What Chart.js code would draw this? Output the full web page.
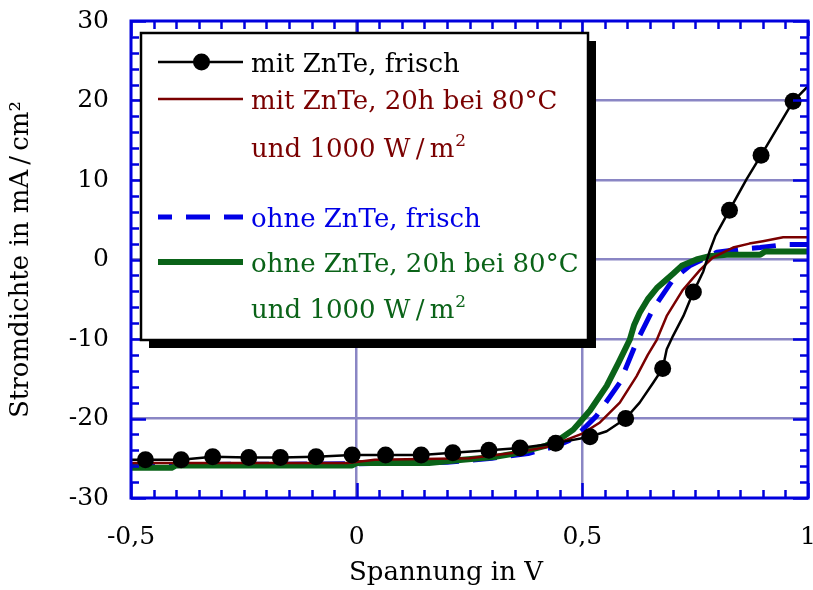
<!DOCTYPE html>
<html><head><meta charset="utf-8">
<script src="https://cdn.jsdelivr.net/npm/chart.js@4.4.0/dist/chart.umd.min.js"></script>
<style>html,body{margin:0;padding:0;background:#fff;}canvas{display:block;}</style>
</head><body>
<canvas id="c" width="813" height="590"></canvas>
<script>
// ---- axis ticks ----
const xTickValues = [-0.5, 0, 0.5, 1];
const xTickLabels = ['-0,5', '0', '0,5', '1'];
const yTickValues = [-30, -20, -10, 0, 10, 20, 30];
const xTitle = 'Spannung in V';
const yTitle = 'Stromdichte in mA\u2009/\u2009cm\u00B2';

// ---- series: mit ZnTe, frisch (measured points with markers) ----
const mitFrischV = [-0.468,-0.389,-0.319,-0.239,-0.169,-0.090,-0.010,0.064,0.143,0.213,0.293,0.362,0.441,0.517,0.596,0.678,0.746,0.826,0.896,0.967];
const mitFrischJ = [-25.2,-25.2,-24.8,-24.9,-24.9,-24.8,-24.6,-24.6,-24.6,-24.3,-24.0,-23.7,-23.1,-22.3,-20.0,-13.7,-4.1,6.2,13.1,19.9];
// additional points of the connecting line (no markers)
const mitFrischLineV = [-0.5,0.554,0.627,0.657,0.687,0.701,0.724,0.768,0.783,0.795,0.864,1.0];
const mitFrischLineJ = [-25.2,-21.6,-18.0,-15.5,-11.3,-9.6,-7.1,-1.5,1.2,3.0,10.1,21.8];

// ---- series: mit ZnTe, 20h bei 80°C und 1000 W/m² ----
const mitAltV = [-0.5,-0.02,0.04,0.25,0.35,0.42,0.45,0.50,0.539,0.583,0.620,0.645,0.665,0.687,0.723,0.761,0.789,0.834,0.870,0.900,0.945,1.0];
const mitAltJ = [-25.6,-25.6,-25.2,-25.0,-24.3,-23.6,-23.0,-21.9,-20.5,-18.0,-14.7,-12.0,-10.1,-7.1,-3.8,-1.3,0.25,1.5,2.0,2.3,2.8,2.8];

// ---- series: ohne ZnTe, frisch ----
const ohneFrischV = [-0.5,-0.41,0.0,0.2,0.3,0.38,0.44,0.47,0.494,0.531,0.583,0.620,0.656,0.701,0.738,0.798,0.85,0.894,0.95,1.0];
const ohneFrischJ = [-26.0,-25.8,-25.7,-25.5,-25.0,-24.4,-23.5,-22.8,-21.8,-19.7,-15.5,-10.4,-6.3,-2.5,-0.8,0.9,1.3,1.5,1.9,1.9];

// ---- series: ohne ZnTe, 20h bei 80°C und 1000 W/m² ----
const ohneAltV = [-0.5,-0.41,-0.40,-0.01,0.0,0.16,0.235,0.31,0.36,0.42,0.45,0.48,0.494,0.517,0.554,0.58,0.605,0.615,0.627,0.645,0.665,0.687,0.701,0.72,0.753,0.78,0.82,0.894,0.905,1.0];
const ohneAltJ = [-26.2,-26.2,-25.9,-25.9,-25.6,-25.6,-25.2,-24.8,-24.3,-23.4,-22.6,-21.4,-20.5,-19.0,-15.9,-13.0,-10.1,-8.2,-6.7,-5.0,-3.6,-2.5,-1.8,-0.8,0.0,0.4,0.6,0.6,1.0,1.0];

// ---- legend text ----
const legendLines = [
  {text: 'mit ZnTe, frisch', series: 0},
  {text: 'mit ZnTe, 20h bei 80°C', series: 1},
  {text: 'und 1000 W\u2009/\u2009m', sup: '2', series: 1, noSample: true},
  {text: 'ohne ZnTe, frisch', series: 2},
  {text: 'ohne ZnTe, 20h bei 80°C', series: 3},
  {text: 'und 1000 W\u2009/\u2009m', sup: '2', series: 3, noSample: true}
];

// ---- styles ----
const FONT = '"DejaVu Serif", "Liberation Serif", serif';
const colBlack = '#000000', colRed = '#7a0000', colBlue = '#0000e6', colGreen = '#0a6318';
const axisBlue = '#0000dd', gridCol = '#8a86c4';

function toPts(V, J) { return V.map((v, i) => ({x: v, y: J[i]})); }
const blackData = toPts(mitFrischV, mitFrischJ).map(p => ({...p, m: true}))
  .concat(toPts(mitFrischLineV, mitFrischLineJ).map(p => ({...p, m: false})))
  .sort((a, b) => a.x - b.x);

const seriesStyles = [
  {color: colBlack, width: 2.5, dash: [], marker: true},
  {color: colRed, width: 2.5, dash: []},
  {color: colBlue, width: 5, dash: [24, 14]},
  {color: colGreen, width: 6, dash: []}
];

const frameTicks = {
  id: 'frameTicks',
  afterDatasetsDraw(chart) {
    const {ctx, chartArea: a, scales: {x, y}} = chart;
    ctx.save();
    ctx.strokeStyle = axisBlue;
    ctx.lineWidth = 2.5;
    ctx.beginPath();
    for (let k = 0; k <= 30; k++) {
      const v = -0.5 + k * 0.05;
      const L = (k % 10 === 0) ? 15 : 8;
      const px = Math.round(x.getPixelForValue(v)) + 0.5;
      ctx.moveTo(px, a.bottom); ctx.lineTo(px, a.bottom - L);
      ctx.moveTo(px, a.top); ctx.lineTo(px, a.top + L);
    }
    for (let k = 0; k <= 30; k++) {
      const v = -30 + k * 2;
      const L = (v % 10 === 0) ? 15 : 8;
      const py = Math.round(y.getPixelForValue(v)) + 0.5;
      ctx.moveTo(a.left, py); ctx.lineTo(a.left + L, py);
      ctx.moveTo(a.right, py); ctx.lineTo(a.right - L, py);
    }
    ctx.stroke();
    ctx.lineWidth = 3;
    ctx.strokeRect(a.left, a.top, a.right - a.left, a.bottom - a.top);
    ctx.restore();
  }
};

const boxLegend = {
  id: 'boxLegend',
  afterDraw(chart) {
    const ctx = chart.ctx;
    const bx = 141, by = 33, bw = 447, bh = 307;
    ctx.save();
    // x-axis title (sits slightly left of plot centre in the original)
    ctx.fillStyle = '#000';
    ctx.font = '26px ' + FONT;
    ctx.textAlign = 'center';
    ctx.textBaseline = 'alphabetic';
    ctx.fillText(xTitle, 446, 580);
    // legend box with shadow
    ctx.fillStyle = '#000';
    ctx.fillRect(bx + 8, by + 8, bw, bh);
    ctx.fillStyle = '#fff';
    ctx.fillRect(bx, by, bw, bh);
    ctx.strokeStyle = '#000';
    ctx.lineWidth = 2.5;
    ctx.strokeRect(bx, by, bw, bh);
    const baselines = [72, 109, 157, 227, 272, 318];
    const sx0 = 158, sx1 = 243, tx = 251;
    legendLines.forEach((ln, i) => {
      const st = seriesStyles[ln.series];
      const bl = baselines[i];
      if (!ln.noSample) {
        const sy = bl - 10;
        ctx.strokeStyle = st.color;
        ctx.lineWidth = st.width;
        ctx.setLineDash(st.dash);
        ctx.lineDashOffset = st.dash.length ? 10 : 0;
        ctx.beginPath(); ctx.moveTo(sx0, sy); ctx.lineTo(sx1, sy); ctx.stroke();
        ctx.setLineDash([]);
        if (st.marker) {
          ctx.fillStyle = st.color;
          ctx.beginPath(); ctx.arc((sx0 + sx1) / 2 + 1, sy, 8.5, 0, Math.PI * 2); ctx.fill();
        }
      }
      ctx.fillStyle = st.color;
      ctx.font = '26px ' + FONT;
      ctx.textBaseline = 'alphabetic';
      ctx.textAlign = 'left';
      ctx.fillText(ln.text, tx, bl);
      if (ln.sup) {
        const w = ctx.measureText(ln.text).width;
        ctx.font = '17px ' + FONT;
        ctx.fillText(ln.sup, tx + w + 1, bl - 11);
      }
    });
    ctx.restore();
  }
};

function fmtX(v) {
  const i = xTickValues.findIndex(t => Math.abs(t - v) < 1e-9);
  return i >= 0 ? xTickLabels[i] : '';
}

const mkDs = (data, st, order, extra) => Object.assign({
  data, showLine: true, borderColor: st.color, backgroundColor: st.color,
  borderWidth: st.width, borderDash: st.dash, pointRadius: 0, tension: 0, order,
  borderJoinStyle: 'round', borderCapStyle: 'butt'
}, extra || {});

new Chart(document.getElementById('c'), {
  type: 'scatter',
  data: {
    datasets: [
      mkDs(blackData, seriesStyles[0], 0, {pointRadius: c => (c.raw && c.raw.m) ? 8.5 : 0, pointBackgroundColor: colBlack, pointBorderWidth: 0}),
      mkDs(toPts(mitAltV, mitAltJ), seriesStyles[1], 1),
      mkDs(toPts(ohneAltV, ohneAltJ), seriesStyles[3], 2),
      mkDs(toPts(ohneFrischV, ohneFrischJ), seriesStyles[2], 3)
    ]
  },
  options: {
    responsive: false, animation: false, devicePixelRatio: 1,
    layout: {padding: {top: 21, right: 5, left: 0, bottom: 0}},
    plugins: {legend: {display: false}, tooltip: {enabled: false}},
    scales: {
      x: {
        type: 'linear', min: -0.5, max: 1,
        afterBuildTicks: s => { s.ticks = xTickValues.map(v => ({value: v})); },
        afterFit: s => { s.height = 92; s.paddingLeft = 0; s.paddingRight = 0; },
        ticks: {callback: v => fmtX(v), color: '#000', font: {family: FONT, size: 25}, padding: 24, maxRotation: 0, autoSkip: false},
        grid: {color: c => (c.tick && (c.tick.value === -0.5 || c.tick.value === 1)) ? 'rgba(0,0,0,0)' : gridCol, lineWidth: 2.5, drawTicks: false},
        border: {display: false},
        title: {display: false}
      },
      y: {
        type: 'linear', min: -30, max: 30,
        afterBuildTicks: s => { s.ticks = yTickValues.map(v => ({value: v})); },
        afterFit: s => { s.width = 131; s.paddingTop = 0; s.paddingBottom = 0; },
        ticks: {color: '#000', font: {family: FONT, size: 25}, padding: 22},
        grid: {color: c => (c.tick && (c.tick.value === -30 || c.tick.value === 30)) ? 'rgba(0,0,0,0)' : gridCol, lineWidth: 2.5, drawTicks: false},
        border: {display: false},
        title: {display: true, text: yTitle, color: '#000', font: {family: FONT, size: 26}, padding: {top: 6, bottom: 0}}
      }
    }
  },
  plugins: [frameTicks, boxLegend]
});
</script>
</body></html>
